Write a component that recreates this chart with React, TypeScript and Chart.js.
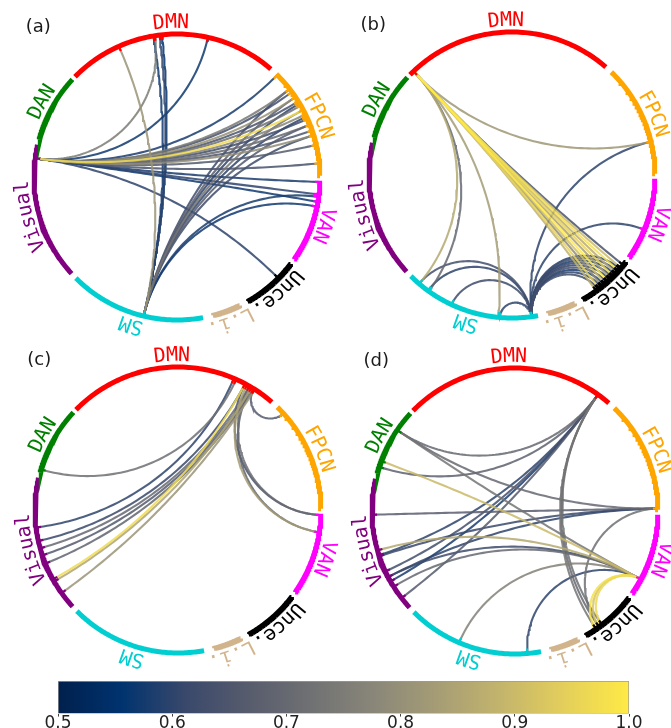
import React, { useEffect, useRef } from 'react';
import { Chart, registerables } from 'chart.js';

Chart.register(...registerables);
Chart.defaults.font.family = '"DejaVu Sans", sans-serif';

// ---------- data ----------
const NET_NAMES = ['FPCN', 'DMN', 'DAN', 'Visual', 'SM', 'L.i.', 'Unce.', 'VAN'];
const NET_START = [0.5, 49, 137, 167, 225, 284.5, 299.5, 325];
const NET_END = [46, 135.5, 165, 222.5, 280.5, 296, 322.5, 358.5];
const NET_COLORS = ['#ffa500', '#ff0000', '#008000', '#800080', '#00ced1', '#d2b48c', '#000000', '#ff00ff'];

type Chord = [number, number, number]; // [angle from, angle to, value]

const CHORDS_A: Chord[] = [
  [172.5, 99, 0.75], [172.5, 77.5, 0.57], [172.5, 45.5, 0.58], [172.5, 38, 0.74],
  [172.5, 36.5, 0.63], [172.5, 34, 0.8], [172.5, 32, 0.64], [172.5, 30, 0.72],
  [172.5, 28, 0.97], [172.5, 26, 0.77], [172.5, 24, 0.62], [172.5, 21.5, 0.7],
  [172.5, 19, 0.65], [172.5, 17, 0.79], [172.5, 13, 0.66], [172.5, 5.5, 0.64],
  [172.5, -2, 0.58], [172.5, -7, 0.6], [172.5, -10, 0.57], [172.5, -45, 0.6],
  [256.5, 114, 0.81], [256.5, 99.5, 0.57], [256.5, 97, 0.6], [256.5, 96, 0.55],
  [256.5, 38, 0.62], [256.5, 34, 0.67], [256.5, 31, 0.6], [256.5, 28, 0.73],
  [256.5, 25, 0.6], [256.5, 21.5, 0.66], [256.5, 17, 0.62], [256.5, -8, 0.58],
  [256.5, -12, 0.57],
];

const CHORDS_B: Chord[] = [
  [133.5, 13.5, 0.82], [133.5, 229.5, 0.86], [133.5, 234.5, 0.7], [133.5, 264.5, 0.83],
  [133.5, -39, 0.64], [133.5, -40.5, 0.9], [133.5, -42, 0.98], [133.5, -43.5, 0.87],
  [133.5, -45, 0.95], [133.5, -46.5, 0.84], [133.5, -48, 1.0], [133.5, -49.5, 0.91],
  [133.5, -51, 0.79], [133.5, -52.5, 0.95], [133.5, -54, 0.88],
  [278, 13.5, 0.6], [278, -22.5, 0.6], [278, 229.5, 0.63], [278, 234, 0.6],
  [278, 245, 0.62], [278, 265, 0.6], [278, -41, 0.59], [278, -42.5, 0.62],
  [278, -44, 0.58], [278, -45.5, 0.61], [278, -47, 0.6], [278, -48.5, 0.63],
  [278, -50, 0.58], [278, -51.5, 0.6], [278, -53, 0.62],
];

const CHORDS_C: Chord[] = [
  [163.5, 66, 0.72], [187, 67, 0.6], [192.5, 62, 0.61], [195.5, 60, 0.7],
  [198.5, 59, 0.66], [202, 58, 0.69], [209, 62, 0.97], [210, 59, 0.85],
  [215.5, 57.5, 0.81], [58, 42.5, 0.66], [62, -2, 0.64], [60, -2, 0.71],
  [61, -9, 0.83], [59, -9, 0.68],
];

const CHORDS_D: Chord[] = [
  [54.5, 145.5, 0.7], [54.5, 162, 0.68], [54.5, 198, 0.6], [54.5, 205, 0.63],
  [54.5, 209.5, 0.58], [54.5, 217.5, 0.66], [54.5, -52.5, 0.72], [54.5, -54, 0.7],
  [54.5, -55.5, 0.73], [1, 145.5, 0.7], [1, 181.5, 0.67], [1, 198.5, 0.61],
  [1, 207.5, 0.6], [1, -54, 0.72], [159.5, -28.5, 0.9], [145.5, -28.5, 0.73],
  [196, -28.5, 0.86], [207.5, -28.5, 0.62], [212, -28.5, 0.7], [247, -28.5, 0.76],
  [275, -28.5, 0.6], [-28.5, -52.5, 0.96], [-28.5, -54, 0.92], [-28.5, -55.5, 0.98],
];

const PANEL_TAGS = ['(a)', '(b)', '(c)', '(d)'];
const CBAR_TICKS = [0.5, 0.6, 0.7, 0.8, 0.9, 1.0];
const V_MIN = 0.5;
const V_MAX = 1.0;
const CIVIDIS_STOPS = ['#00204d', '#00336f', '#39486b', '#575c6d', '#707173', '#8a8779', '#a69d75', '#c4b56c', '#e4cf5b', '#ffea46'];

// ---------- layout ----------
const PANEL_CX = [177, 512, 178, 515];
const PANEL_CY = [177, 175, 510, 511];
const RADIUS_PX = 143;
const CANVAS_S = 340;
const HALF_RANGE = CANVAS_S / (2 * RADIUS_PX);
const LABEL_R = 1.08;
const TAG_X = -0.97;
const TAG_Y = 1.05;
const D2R = Math.PI / 180;

// ---------- helpers ----------
function hexToRgb(h: string) {
  const n = parseInt(h.slice(1), 16);
  return [(n >> 16) & 255, (n >> 8) & 255, n & 255];
}
function cividis(v: number, alpha = 1) {
  let t = (v - V_MIN) / (V_MAX - V_MIN);
  t = Math.max(0, Math.min(1, t));
  const pos = t * (CIVIDIS_STOPS.length - 1);
  const i = Math.min(Math.floor(pos), CIVIDIS_STOPS.length - 2);
  const f = pos - i;
  const a = hexToRgb(CIVIDIS_STOPS[i]);
  const b = hexToRgb(CIVIDIS_STOPS[i + 1]);
  const c = a.map((x, k) => Math.round(x + (b[k] - x) * f));
  return `rgba(${c[0]},${c[1]},${c[2]},${alpha})`;
}
function polar(deg: number, r: number) {
  return { x: r * Math.cos(deg * D2R), y: r * Math.sin(deg * D2R) };
}
function norm(deg: number) {
  return ((deg % 360) + 360) % 360;
}
function netIndexOf(deg: number) {
  const a = norm(deg);
  for (let i = 0; i < NET_START.length; i++) {
    if (a >= NET_START[i] - 1.5 && a <= NET_END[i] + 1.5) return i;
  }
  return -1;
}
function arcPoints(a0: number, a1: number) {
  const pts = [];
  const steps = 80;
  for (let k = 0; k <= steps; k++) pts.push(polar(a0 + ((a1 - a0) * k) / steps, 1));
  return pts;
}
// arc of the circle orthogonal to the unit circle through both end points
function geodesic(a: number, b: number) {
  const p1 = polar(a, 1);
  const p2 = polar(b, 1);
  const sx = p1.x + p2.x;
  const sy = p1.y + p2.y;
  const len = Math.hypot(sx, sy);
  const n = 70;
  const pts = [];
  if (len < 1e-3) {
    for (let k = 0; k <= n; k++) pts.push({ x: p1.x + ((p2.x - p1.x) * k) / n, y: p1.y + ((p2.y - p1.y) * k) / n });
    return pts;
  }
  const dot = Math.max(-1, Math.min(1, p1.x * p2.x + p1.y * p2.y));
  const d = Math.acos(dot) / 2;
  const cx = sx / len / Math.cos(d);
  const cy = sy / len / Math.cos(d);
  const rc = Math.tan(d);
  const f1 = Math.atan2(p1.y - cy, p1.x - cx);
  const f2 = Math.atan2(p2.y - cy, p2.x - cx);
  let df = f2 - f1;
  while (df > Math.PI) df -= 2 * Math.PI;
  while (df < -Math.PI) df += 2 * Math.PI;
  for (let k = 0; k <= n; k++) {
    const f = f1 + (df * k) / n;
    pts.push({ x: cx + rc * Math.cos(f), y: cy + rc * Math.sin(f) });
  }
  return pts;
}

// ---------- panel ----------
function ChordPanel({ chords, tag, cx, cy }: { chords: Chord[]; tag: string; cx: number; cy: number }) {
  const ref = useRef<HTMLCanvasElement>(null);
  useEffect(() => {
    const canvas = ref.current;
    if (!canvas) return;
    const datasets: any[] = [];
    NET_NAMES.forEach((_, i) => {
      datasets.push({
        data: arcPoints(NET_START[i], NET_END[i]),
        borderColor: NET_COLORS[i],
        borderWidth: 5,
        borderCapStyle: 'butt',
        showLine: true,
        pointRadius: 0,
        order: 0,
      });
    });
    const ends = new Set<number>();
    chords.forEach(([a, b]) => {
      ends.add(norm(a));
      ends.add(norm(b));
    });
    ends.forEach((a) => {
      const idx = netIndexOf(a);
      datasets.push({
        data: [polar(a, 1), polar(a, 0.965)],
        borderColor: idx >= 0 ? NET_COLORS[idx] : '#000',
        borderWidth: 2.2,
        showLine: true,
        pointRadius: 0,
        order: 1,
      });
    });
    const sorted = [...chords].sort((p, q) => p[2] - q[2]);
    sorted.forEach(([a, b, v], k) => {
      datasets.push({
        data: geodesic(a, b),
        borderColor: cividis(v, 0.85),
        borderWidth: 2.1,
        showLine: true,
        pointRadius: 0,
        order: 1000 - k,
      });
    });

    const labelPlugin = {
      id: 'chordLabels',
      afterDraw(chart: any) {
        const { ctx } = chart;
        const xs = chart.scales.x;
        const ys = chart.scales.y;
        const ox = xs.getPixelForValue(0);
        const oy = ys.getPixelForValue(0);
        const rpx = xs.getPixelForValue(1) - ox;
        ctx.save();
        ctx.font = '20px "DejaVu Sans Mono", monospace';
        ctx.textAlign = 'center';
        ctx.textBaseline = 'middle';
        NET_NAMES.forEach((name, i) => {
          const mid = ((NET_START[i] + NET_END[i]) / 2) * D2R;
          const rl = rpx * LABEL_R;
          const chars = [...name];
          const widths = chars.map((ch) => ctx.measureText(ch).width);
          const total = widths.reduce((s, w) => s + w, 0);
          let acc = -total / 2;
          ctx.fillStyle = NET_COLORS[i];
          chars.forEach((ch, j) => {
            const off = acc + widths[j] / 2;
            acc += widths[j];
            const th = mid - off / rl;
            ctx.save();
            ctx.translate(ox + rl * Math.cos(th), oy - rl * Math.sin(th));
            ctx.rotate(Math.PI / 2 - th);
            ctx.fillText(ch, 0, 0);
            ctx.restore();
          });
        });
        ctx.font = '18px "DejaVu Sans", sans-serif';
        ctx.fillStyle = '#1a1a1a';
        ctx.fillText(tag, xs.getPixelForValue(TAG_X), ys.getPixelForValue(TAG_Y));
        ctx.restore();
      },
    };

    const chart = new Chart(canvas, {
      type: 'scatter',
      data: { datasets },
      options: {
        animation: false,
        responsive: false,
        events: [],
        layout: { padding: 0 },
        plugins: { legend: { display: false }, tooltip: { enabled: false } },
        elements: { line: { tension: 0 } },
        scales: {
          x: { type: 'linear', min: -HALF_RANGE, max: HALF_RANGE, display: false },
          y: { type: 'linear', min: -HALF_RANGE, max: HALF_RANGE, display: false },
        },
      } as any,
      plugins: [labelPlugin],
    });
    return () => chart.destroy();
  }, [chords, tag]);
  return (
    <canvas
      ref={ref}
      width={CANVAS_S}
      height={CANVAS_S}
      style={{ position: 'absolute', left: cx - CANVAS_S / 2, top: cy - CANVAS_S / 2, width: CANVAS_S, height: CANVAS_S }}
    />
  );
}

// ---------- colour bar ----------
function ColorBar() {
  const ref = useRef<HTMLCanvasElement>(null);
  useEffect(() => {
    const canvas = ref.current;
    if (!canvas) return;
    const chart = new Chart(canvas, {
      type: 'bar',
      data: {
        labels: [''],
        datasets: [
          {
            data: [[V_MIN, V_MAX]],
            backgroundColor: (c: any) => {
              const a = c.chart.chartArea;
              if (!a) return '#888';
              const g = c.chart.ctx.createLinearGradient(a.left, 0, a.right, 0);
              CIVIDIS_STOPS.forEach((s, i) => g.addColorStop(i / (CIVIDIS_STOPS.length - 1), s));
              return g;
            },
            borderColor: '#9a9a9a',
            borderWidth: 1,
            borderSkipped: false,
            barPercentage: 1,
            categoryPercentage: 1,
          } as any,
        ],
      },
      options: {
        indexAxis: 'y',
        animation: false,
        responsive: false,
        events: [],
        layout: { padding: { left: 58, right: 42, top: 11, bottom: 3 } },
        plugins: { legend: { display: false }, tooltip: { enabled: false } },
        scales: {
          x: {
            type: 'linear',
            min: V_MIN,
            max: V_MAX,
            afterBuildTicks: (s: any) => {
              s.ticks = CBAR_TICKS.map((v) => ({ value: v }));
            },
            ticks: {
              callback: (v: any) => Number(v).toFixed(1),
              font: { size: 17, family: '"DejaVu Sans", sans-serif' },
              color: '#222',
              padding: -3,
              maxRotation: 0,
              autoSkip: false,
            },
            grid: { drawOnChartArea: false, drawTicks: true, tickLength: 3, color: '#444' },
            border: { display: false },
          },
          y: { display: false },
        },
      } as any,
    });
    return () => chart.destroy();
  }, []);
  return (
    <canvas ref={ref} width={671} height={64} style={{ position: 'absolute', left: 0, top: 670, width: 671, height: 64 }} />
  );
}

export default function App() {
  const all = [CHORDS_A, CHORDS_B, CHORDS_C, CHORDS_D];
  return (
    <div style={{ position: 'absolute', left: 0, top: 0, width: 671, height: 728, overflow: 'hidden', background: '#ffffff' }}>
      {all.map((ch, i) => (
        <ChordPanel key={i} chords={ch} tag={PANEL_TAGS[i]} cx={PANEL_CX[i]} cy={PANEL_CY[i]} />
      ))}
      <ColorBar />
    </div>
  );
}
